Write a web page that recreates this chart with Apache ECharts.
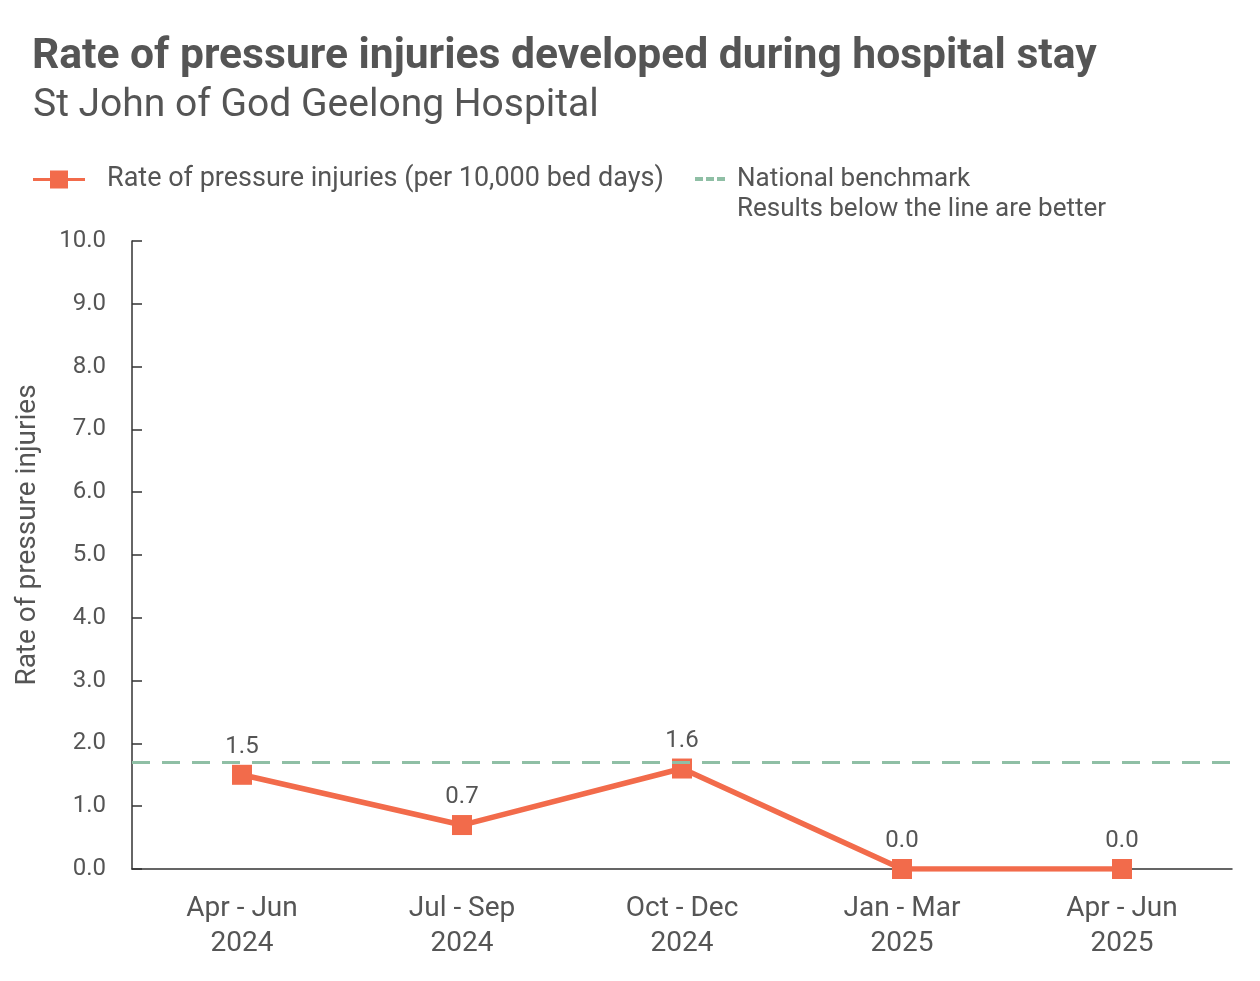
<!DOCTYPE html>
<html><head><meta charset="utf-8">
<script src="https://cdn.jsdelivr.net/npm/echarts@6/dist/echarts.min.js"></script>
<style>html,body{margin:0;padding:0;background:#fff}#c{width:1260px;height:981px}</style>
</head><body><div id="c"></div>
<script>
const categories = ['Apr - Jun\n2024', 'Jul - Sep\n2024', 'Oct - Dec\n2024', 'Jan - Mar\n2025', 'Apr - Jun\n2025'];
const rateValues = [1.5, 0.7, 1.6, 0.0, 0.0];
const benchmarkValue = 1.7;
const yTicks = {min: 0, max: 10, interval: 1};
const seriesName = 'Rate of pressure injuries (per 10,000 bed days)';
const benchName = 'National benchmark';
const benchNote = 'Results below the line are better';

const TXT = '#555555', ORANGE = '#F26B4B', GREEN = '#8FBFA5';
const FONT = 'Roboto';
const chart = echarts.init(document.getElementById('c'), null, {renderer: 'canvas'});
chart.setOption({
  animation: false,
  textStyle: {fontFamily: FONT, color: TXT},
  title: [
    {text: 'Rate of pressure injuries developed during hospital stay', left: 27, top: 31,
     textStyle: {fontFamily: FONT, fontSize: 42.6, fontWeight: 'bold', color: TXT}},
    {text: 'St John of God Geelong Hospital', left: 28, top: 82,
     textStyle: {fontFamily: FONT, fontSize: 39, fontWeight: 'normal', color: TXT}}
  ],
  legend: [
    {data: [{name: seriesName, icon: 'path://M0,7.5H17V0H35V7.5H52V10.5H35V18H17V10.5H0Z'}], left: 33, top: 166, padding: 0, itemWidth: 52, itemHeight: 18,
     itemStyle: {color: ORANGE},
     textStyle: {fontFamily: FONT, fontSize: 27, color: TXT, padding: [0,0,0,17]}},
    {data: [{name: benchName, icon: 'path://M0,0H8V4H0Z M11,0H19V4H11Z M22,0H30V4H22Z'}], left: 695, top: 166, padding: 0,
     itemWidth: 30, itemHeight: 4,
     textStyle: {fontFamily: FONT, fontSize: 26, color: TXT, padding: [0,0,0,7]}}
  ],
  grid: {left: 132, right: 28, top: 241, bottom: 112, containLabel: false},
  xAxis: {
    type: 'category', data: categories, boundaryGap: true,
    axisLine: {show: true, lineStyle: {color: '#333', width: 1.5}},
    axisTick: {show: false},
    axisLabel: {fontFamily: FONT, fontSize: 28, color: TXT, lineHeight: 35, margin: 22}
  },
  yAxis: {
    type: 'value', min: yTicks.min, max: yTicks.max, interval: yTicks.interval,
    splitLine: {show: false},
    axisLine: {show: true, lineStyle: {color: '#333', width: 1.5}},
    axisTick: {show: true, inside: true, length: 10, lineStyle: {color: '#333', width: 1.5}},
    axisLabel: {fontFamily: FONT, fontSize: 24, color: TXT, margin: 26, formatter: v => v.toFixed(1)}
  },
  graphic: [
    {type: 'text', x: 14, y: 535, rotation: Math.PI/2,
     style: {text: 'Rate of pressure injuries', font: '28px ' + FONT, fill: TXT, align: 'center', verticalAlign: 'top'}},
    {type: 'text', x: 737, y: 209,
     style: {text: benchNote, font: '26px ' + FONT, fill: TXT, align: 'left', verticalAlign: 'middle'}}
  ],
  series: [
    {name: seriesName, type: 'line', data: rateValues, symbol: 'rect', symbolSize: 20,
     lineStyle: {color: ORANGE, width: 5.5}, itemStyle: {color: ORANGE},
     label: {show: true, position: 'top', distance: 6, fontFamily: FONT, fontSize: 24, color: TXT, formatter: p => p.value.toFixed(1)},
     z: 3},
    {name: benchName, type: 'line', data: [], z: 10, itemStyle: {color: GREEN}, lineStyle: {color: GREEN, type: 'dashed', width: 3},
     markLine: {silent: true, symbol: 'none', label: {show: false}, z: 10,
       lineStyle: {color: GREEN, type: [18, 12], width: 3},
       data: [{yAxis: benchmarkValue}]}}
  ]
});
</script></body></html>
